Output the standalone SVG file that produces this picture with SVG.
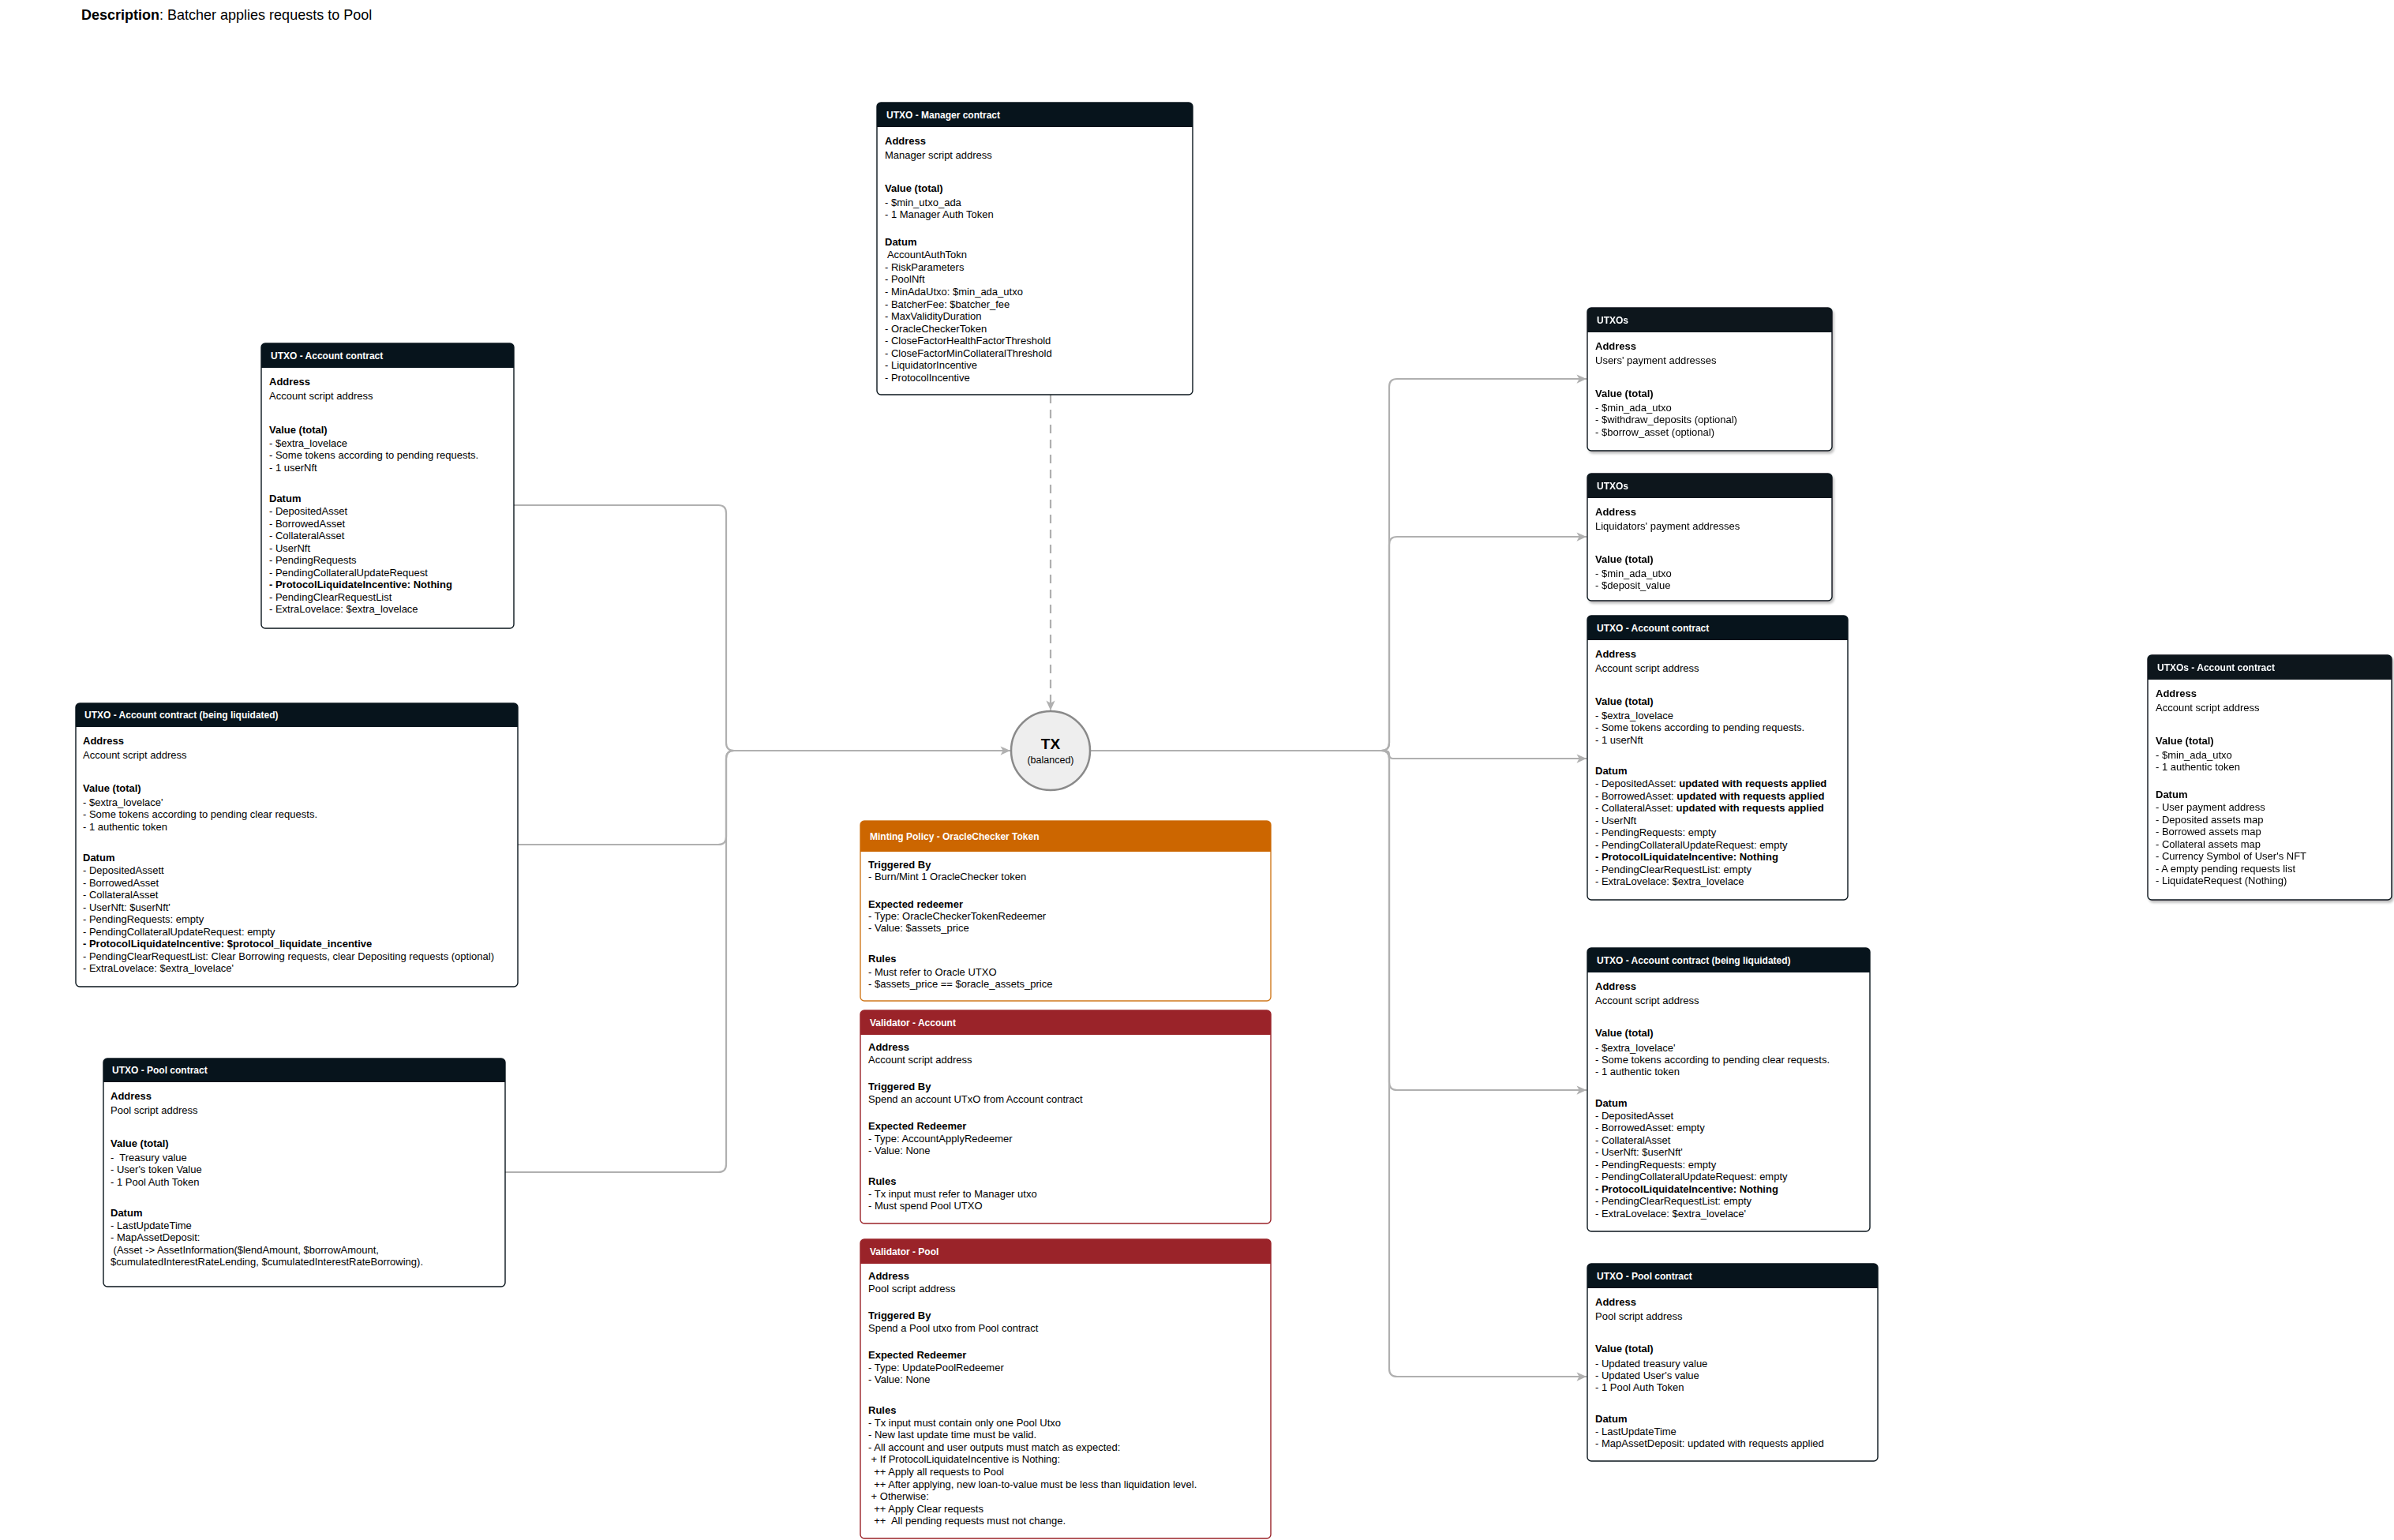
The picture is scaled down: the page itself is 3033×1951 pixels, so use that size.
<svg xmlns="http://www.w3.org/2000/svg" width="3033" height="1951" viewBox="0 0 3033 1951">
<style>
text{font-family:"Liberation Sans",Arial,Helvetica,sans-serif;font-size:13px;fill:#000;white-space:pre}
.b{font-weight:bold}
.h{font-size:12px;font-weight:bold;fill:#fff}
.box{fill:#fff;stroke:#0b161d;stroke-width:1.4}
.hd{fill:#07141c}
.obox{fill:#fff;stroke:#d07a1e;stroke-width:1.4}
.ohd{fill:#cc6600}
.rbox{fill:#fff;stroke:#9a2329;stroke-width:1.4}
.rhd{fill:#9a2329}
.edge{fill:none;stroke:#b0b0b0;stroke-width:2.2}
.dash{fill:none;stroke:#b0b0b0;stroke-width:2.2;stroke-dasharray:11 8}
</style>
<defs>
<marker id="arr" viewBox="0 0 12 12" refX="11" refY="6" markerWidth="15" markerHeight="15" markerUnits="userSpaceOnUse" orient="auto"><path d="M1,1.5 L11,6 L1,10.5 L3.5,6 Z" fill="#b0b0b0"/></marker>
<filter id="sh" x="-5%" y="-5%" width="115%" height="115%"><feDropShadow dx="2" dy="3" stdDeviation="1.5" flood-color="#000" flood-opacity="0.25"/></filter>
</defs>
<rect width="3033" height="1951" fill="#fff"/>
<text x="103" y="25" style="font-size:18px"><tspan class="b">Description</tspan>: Batcher applies requests to Pool</text>

<g id="connectors">
<path class="edge" d="M651,640 H910 Q920,640 920,650 V941 Q920,951 930,951 H1280" marker-end="url(#arr)"/>
<path class="edge" d="M656,1070 H910 Q920,1070 920,1060 V961 Q920,951 930,951 H1280"/>
<path class="edge" d="M640,1485 H910 Q920,1485 920,1475 V961 Q920,951 930,951 H1280"/>
<path class="dash" d="M1331,500 V900" marker-end="url(#arr)"/>
<path class="edge" d="M1381,951 H1750 Q1760,951 1760,941 V490 Q1760,480 1770,480 H2010" marker-end="url(#arr)"/>
<path class="edge" d="M1381,951 H1750 Q1760,951 1760,941 V690 Q1760,680 1770,680 H2010" marker-end="url(#arr)"/>
<path class="edge" d="M1381,951 H1755 Q1760,951 1760,956 Q1760,961 1765,961 H2010" marker-end="url(#arr)"/>
<path class="edge" d="M1381,951 H1750 Q1760,951 1760,961 V1371 Q1760,1381 1770,1381 H2010" marker-end="url(#arr)"/>
<path class="edge" d="M1381,951 H1750 Q1760,951 1760,961 V1734 Q1760,1744 1770,1744 H2010" marker-end="url(#arr)"/>
</g>

<g id="tx">
<circle cx="1331" cy="951" r="50" fill="#eeeeee" stroke="#8a8a8a" stroke-width="2.5"/>
<text x="1331" y="949" text-anchor="middle" class="b" style="font-size:19px">TX</text>
<text x="1331" y="967" text-anchor="middle" style="font-size:12.5px">(balanced)</text>
</g>

<g id="manager">
<rect class="box" x="1111" y="130" width="400" height="370" rx="5"/>
<path class="hd" d="M1111,161 V135 Q1111,130 1116,130 H1506 Q1511,130 1511,135 V161 Z"/>
<text class="h" x="1123" y="150">UTXO - Manager contract</text>
<text class="b" x="1121" y="183">Address</text>
<text x="1121" y="201">Manager script address</text>
<text class="b" x="1121" y="243">Value (total)</text>
<text x="1121" y="261">- $min_utxo_ada</text>
<text x="1121" y="276">- 1 Manager Auth Token</text>
<text class="b" x="1121" y="311">Datum</text>
<text x="1121" y="327.2"> AccountAuthTokn</text>
<text x="1121" y="342.8">- RiskParameters</text>
<text x="1121" y="358.3">- PoolNft</text>
<text x="1121" y="373.9">- MinAdaUtxo: $min_ada_utxo</text>
<text x="1121" y="389.5">- BatcherFee: $batcher_fee</text>
<text x="1121" y="405">- MaxValidityDuration</text>
<text x="1121" y="420.6">- OracleCheckerToken</text>
<text x="1121" y="436.2">- CloseFactorHealthFactorThreshold</text>
<text x="1121" y="451.8">- CloseFactorMinCollateralThreshold</text>
<text x="1121" y="467.3">- LiquidatorIncentive</text>
<text x="1121" y="482.9">- ProtocolIncentive</text>
</g>

<g id="account-in">
<rect class="box" x="331" y="435" width="320" height="361" rx="5"/>
<path class="hd" d="M331,466 V440 Q331,435 336,435 H646 Q651,435 651,440 V466 Z"/>
<text class="h" x="343" y="455">UTXO - Account contract</text>
<text class="b" x="341" y="487.8">Address</text>
<text x="341" y="506.2">Account script address</text>
<text class="b" x="341" y="548.8">Value (total)</text>
<text x="341" y="566.2">- $extra_lovelace</text>
<text x="341" y="581.2">- Some tokens according to pending requests.</text>
<text x="341" y="597.2">- 1 userNft</text>
<text class="b" x="341" y="636.2">Datum</text>
<text x="341" y="652.2">- DepositedAsset</text>
<text x="341" y="667.7">- BorrowedAsset</text>
<text x="341" y="683.2">- CollateralAsset</text>
<text x="341" y="698.7">- UserNft</text>
<text x="341" y="714.2">- PendingRequests</text>
<text x="341" y="729.7">- PendingCollateralUpdateRequest</text>
<text class="b" x="341" y="745.2">- ProtocolLiquidateIncentive: Nothing</text>
<text x="341" y="760.7">- PendingClearRequestList</text>
<text x="341" y="776.2">- ExtraLovelace: $extra_lovelace</text>
</g>

<g id="account-liquidated-in">
<rect class="box" x="96" y="891" width="560" height="359" rx="5"/>
<path class="hd" d="M96,921 V896 Q96,891 101,891 H651 Q656,891 656,896 V921 Z"/>
<text class="h" x="107" y="910">UTXO - Account contract (being liquidated)</text>
<text class="b" x="105" y="943.2">Address</text>
<text x="105" y="961.2">Account script address</text>
<text class="b" x="105" y="1002.8">Value (total)</text>
<text x="105" y="1021.2">- $extra_lovelace'</text>
<text x="105" y="1036.2">- Some tokens according to pending clear requests.</text>
<text x="105" y="1051.8">- 1 authentic token</text>
<text class="b" x="105" y="1091.2">Datum</text>
<text x="105" y="1107.2">- DepositedAssett</text>
<text x="105" y="1122.7">- BorrowedAsset</text>
<text x="105" y="1138.2">- CollateralAsset</text>
<text x="105" y="1153.7">- UserNft: $userNft'</text>
<text x="105" y="1169.2">- PendingRequests: empty</text>
<text x="105" y="1184.7">- PendingCollateralUpdateRequest: empty</text>
<text class="b" x="105" y="1200.2">- ProtocolLiquidateIncentive: $protocol_liquidate_incentive</text>
<text x="105" y="1215.7">- PendingClearRequestList: Clear Borrowing requests, clear Depositing requests (optional)</text>
<text x="105" y="1231.2">- ExtraLovelace: $extra_lovelace'</text>
</g>

<g id="pool-in">
<rect class="box" x="131" y="1341" width="509" height="289" rx="5"/>
<path class="hd" d="M131,1371 V1346 Q131,1341 136,1341 H635 Q640,1341 640,1346 V1371 Z"/>
<text class="h" x="142" y="1360">UTXO - Pool contract</text>
<text class="b" x="140" y="1393.2">Address</text>
<text x="140" y="1411.2">Pool script address</text>
<text class="b" x="140" y="1452.8">Value (total)</text>
<text x="140" y="1471.2">-  Treasury value</text>
<text x="140" y="1486.2">- User's token Value</text>
<text x="140" y="1501.8">- 1 Pool Auth Token</text>
<text class="b" x="140" y="1541.2">Datum</text>
<text x="140" y="1557.2">- LastUpdateTime</text>
<text x="140" y="1572.2">- MapAssetDeposit:</text>
<text x="140" y="1587.8"> (Asset -&gt; AssetInformation($lendAmount, $borrowAmount,</text>
<text x="140" y="1602.8">$cumulatedInterestRateLending, $cumulatedInterestRateBorrowing).</text>
</g>

<g id="minting-oraclechecker">
<rect class="obox" x="1090" y="1040" width="520" height="228" rx="5"/>
<path class="ohd" d="M1090,1079 V1045 Q1090,1040 1095,1040 H1605 Q1610,1040 1610,1045 V1079 Z"/>
<text class="h" x="1102" y="1064.3">Minting Policy - OracleChecker Token</text>
<text class="b" x="1100" y="1099.5">Triggered By</text>
<text x="1100" y="1114.5">- Burn/Mint 1 OracleChecker token</text>
<text class="b" x="1100" y="1149.5">Expected redeemer</text>
<text x="1100" y="1165.2">- Type: OracleCheckerTokenRedeemer</text>
<text x="1100" y="1180.2">- Value: $assets_price</text>
<text class="b" x="1100" y="1218.8">Rules</text>
<text x="1100" y="1235.5">- Must refer to Oracle UTXO</text>
<text x="1100" y="1250.5">- $assets_price == $oracle_assets_price</text>
</g>

<g id="validator-account">
<rect class="rbox" x="1090" y="1280" width="520" height="270" rx="5"/>
<path class="rhd" d="M1090,1311 V1285 Q1090,1280 1095,1280 H1605 Q1610,1280 1610,1285 V1311 Z"/>
<text class="h" x="1102" y="1300">Validator - Account</text>
<text class="b" x="1100" y="1331.2">Address</text>
<text x="1100" y="1347.2">Account script address</text>
<text class="b" x="1100" y="1381.2">Triggered By</text>
<text x="1100" y="1397.2">Spend an account UTxO from Account contract</text>
<text class="b" x="1100" y="1431.2">Expected Redeemer</text>
<text x="1100" y="1447.2">- Type: AccountApplyRedeemer</text>
<text x="1100" y="1462.2">- Value: None</text>
<text class="b" x="1100" y="1501.2">Rules</text>
<text x="1100" y="1517.2">- Tx input must refer to Manager utxo</text>
<text x="1100" y="1532.2">- Must spend Pool UTXO</text>
</g>

<g id="validator-pool">
<rect class="rbox" x="1090" y="1570" width="520" height="379" rx="5"/>
<path class="rhd" d="M1090,1601 V1575 Q1090,1570 1095,1570 H1605 Q1610,1570 1610,1575 V1601 Z"/>
<text class="h" x="1102" y="1590">Validator - Pool</text>
<text class="b" x="1100" y="1621.2">Address</text>
<text x="1100" y="1637.2">Pool script address</text>
<text class="b" x="1100" y="1671.2">Triggered By</text>
<text x="1100" y="1687.2">Spend a Pool utxo from Pool contract</text>
<text class="b" x="1100" y="1721.2">Expected Redeemer</text>
<text x="1100" y="1737.2">- Type: UpdatePoolRedeemer</text>
<text x="1100" y="1752.2">- Value: None</text>
<text class="b" x="1100" y="1791.2">Rules</text>
<text x="1100" y="1807.2">- Tx input must contain only one Pool Utxo</text>
<text x="1100" y="1822.2">- New last update time must be valid.</text>
<text x="1100" y="1837.8">- All account and user outputs must match as expected:</text>
<text x="1100" y="1852.8"> + If ProtocolLiquidateIncentive is Nothing:</text>
<text x="1100" y="1868.8">  ++ Apply all requests to Pool</text>
<text x="1100" y="1885.2">  ++ After applying, new loan-to-value must be less than liquidation level.</text>
<text x="1100" y="1900.2"> + Otherwise:</text>
<text x="1100" y="1916.2">  ++ Apply Clear requests</text>
<text x="1100" y="1931.2">  ++  All pending requests must not change.</text>
</g>

<g id="utxos-users" filter="url(#sh)">
<rect class="box" x="2011" y="390" width="310" height="181" rx="5"/>
<path class="hd" d="M2011,421 V395 Q2011,390 2016,390 H2316 Q2321,390 2321,395 V421 Z"/>
<text class="h" x="2023" y="410">UTXOs</text>
<text class="b" x="2021" y="443.2">Address</text>
<text x="2021" y="461.2">Users' payment addresses</text>
<text class="b" x="2021" y="502.8">Value (total)</text>
<text x="2021" y="521.2">- $min_ada_utxo</text>
<text x="2021" y="536.2">- $withdraw_deposits (optional)</text>
<text x="2021" y="551.8">- $borrow_asset (optional)</text>
</g>

<g id="utxos-liquidators" filter="url(#sh)">
<rect class="box" x="2011" y="600" width="310" height="161" rx="5"/>
<path class="hd" d="M2011,631 V605 Q2011,600 2016,600 H2316 Q2321,600 2321,605 V631 Z"/>
<text class="h" x="2023" y="620">UTXOs</text>
<text class="b" x="2021" y="653.2">Address</text>
<text x="2021" y="671.2">Liquidators' payment addresses</text>
<text class="b" x="2021" y="713.2">Value (total)</text>
<text x="2021" y="731.2">- $min_ada_utxo</text>
<text x="2021" y="746.2">- $deposit_value</text>
</g>

<g id="account-out">
<rect class="box" x="2011" y="780" width="330" height="360" rx="5"/>
<path class="hd" d="M2011,811 V785 Q2011,780 2016,780 H2336 Q2341,780 2341,785 V811 Z"/>
<text class="h" x="2023" y="800">UTXO - Account contract</text>
<text class="b" x="2021" y="833.2">Address</text>
<text x="2021" y="851.2">Account script address</text>
<text class="b" x="2021" y="892.8">Value (total)</text>
<text x="2021" y="911.2">- $extra_lovelace</text>
<text x="2021" y="926.2">- Some tokens according to pending requests.</text>
<text x="2021" y="941.8">- 1 userNft</text>
<text class="b" x="2021" y="981.2">Datum</text>
<text x="2021" y="997.2">- DepositedAsset: <tspan class="b">updated with requests applied</tspan></text>
<text x="2021" y="1012.7">- BorrowedAsset: <tspan class="b">updated with requests applied</tspan></text>
<text x="2021" y="1028.2">- CollateralAsset: <tspan class="b">updated with requests applied</tspan></text>
<text x="2021" y="1043.7">- UserNft</text>
<text x="2021" y="1059.2">- PendingRequests: empty</text>
<text x="2021" y="1074.7">- PendingCollateralUpdateRequest: empty</text>
<text class="b" x="2021" y="1090.2">- ProtocolLiquidateIncentive: Nothing</text>
<text x="2021" y="1105.7">- PendingClearRequestList: empty</text>
<text x="2021" y="1121.2">- ExtraLovelace: $extra_lovelace</text>
</g>

<g id="account-liquidated-out">
<rect class="box" x="2011" y="1201" width="358" height="359" rx="5"/>
<path class="hd" d="M2011,1232 V1206 Q2011,1201 2016,1201 H2364 Q2369,1201 2369,1206 V1232 Z"/>
<text class="h" x="2023" y="1220.5">UTXO - Account contract (being liquidated)</text>
<text class="b" x="2021" y="1253.5">Address</text>
<text x="2021" y="1271.5">Account script address</text>
<text class="b" x="2021" y="1313">Value (total)</text>
<text x="2021" y="1331.5">- $extra_lovelace'</text>
<text x="2021" y="1346.5">- Some tokens according to pending clear requests.</text>
<text x="2021" y="1362">- 1 authentic token</text>
<text class="b" x="2021" y="1401.5">Datum</text>
<text x="2021" y="1417.5">- DepositedAsset</text>
<text x="2021" y="1433">- BorrowedAsset: empty</text>
<text x="2021" y="1448.5">- CollateralAsset</text>
<text x="2021" y="1464">- UserNft: $userNft'</text>
<text x="2021" y="1479.5">- PendingRequests: empty</text>
<text x="2021" y="1495">- PendingCollateralUpdateRequest: empty</text>
<text class="b" x="2021" y="1510.5">- ProtocolLiquidateIncentive: Nothing</text>
<text x="2021" y="1526">- PendingClearRequestList: empty</text>
<text x="2021" y="1541.5">- ExtraLovelace: $extra_lovelace'</text>
</g>

<g id="pool-out">
<rect class="box" x="2011" y="1601" width="368" height="250" rx="5"/>
<path class="hd" d="M2011,1632 V1606 Q2011,1601 2016,1601 H2374 Q2379,1601 2379,1606 V1632 Z"/>
<text class="h" x="2023" y="1620.5">UTXO - Pool contract</text>
<text class="b" x="2021" y="1653.5">Address</text>
<text x="2021" y="1671.5">Pool script address</text>
<text class="b" x="2021" y="1713">Value (total)</text>
<text x="2021" y="1731.5">- Updated treasury value</text>
<text x="2021" y="1746.5">- Updated User's value</text>
<text x="2021" y="1762">- 1 Pool Auth Token</text>
<text class="b" x="2021" y="1801.5">Datum</text>
<text x="2021" y="1817.5">- LastUpdateTime</text>
<text x="2021" y="1833">- MapAssetDeposit: updated with requests applied</text>
</g>

<g id="utxos-account-contract" filter="url(#sh)">
<rect class="box" x="2721" y="830" width="309" height="310" rx="5"/>
<path class="hd" d="M2721,861 V835 Q2721,830 2726,830 H3025 Q3030,830 3030,835 V861 Z"/>
<text class="h" x="2733" y="850">UTXOs - Account contract</text>
<text class="b" x="2731" y="883.2">Address</text>
<text x="2731" y="901.2">Account script address</text>
<text class="b" x="2731" y="942.8">Value (total)</text>
<text x="2731" y="961.2">- $min_ada_utxo</text>
<text x="2731" y="976.2">- 1 authentic token</text>
<text class="b" x="2731" y="1011.2">Datum</text>
<text x="2731" y="1027.2">- User payment address</text>
<text x="2731" y="1042.7">- Deposited assets map</text>
<text x="2731" y="1058.2">- Borrowed assets map</text>
<text x="2731" y="1073.7">- Collateral assets map</text>
<text x="2731" y="1089.2">- Currency Symbol of User's NFT</text>
<text x="2731" y="1104.7">- A empty pending requests list</text>
<text x="2731" y="1120.2">- LiquidateRequest (Nothing)</text>
</g>
</svg>
